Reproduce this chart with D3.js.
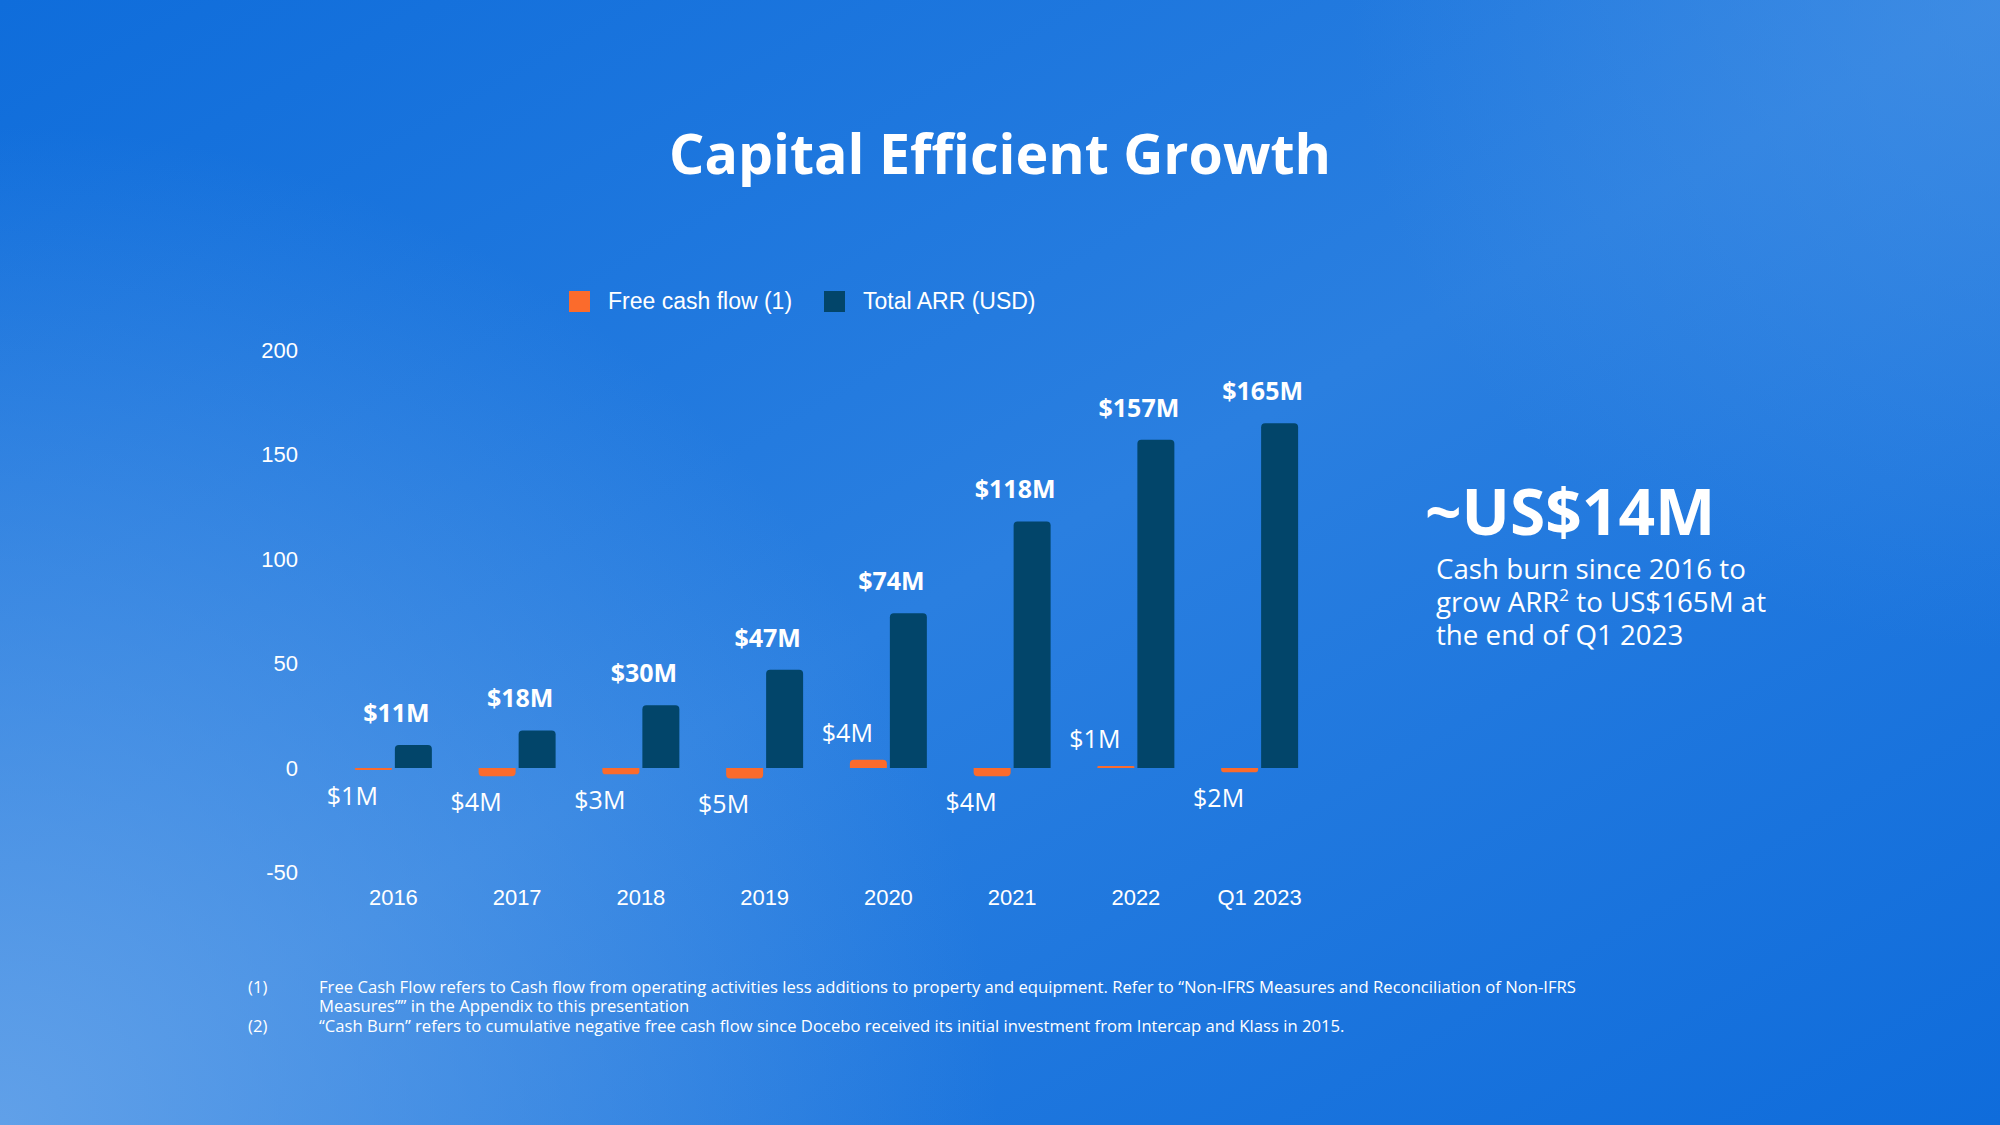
<!DOCTYPE html>
<html>
<head>
<meta charset="utf-8">
<script src="https://cdn.jsdelivr.net/npm/d3@7"></script>
<style>
  html, body { margin: 0; padding: 0; background: #1a74dc; }
  svg { display: block; }
</style>
</head>
<body>
<script>
// ---------- DATA ----------
const categories = ["2016", "2017", "2018", "2019", "2020", "2021", "2022", "Q1 2023"];
const arrValues  = [11, 18, 30, 47, 74, 118, 157, 165];
const fcfValues  = [-1, -4, -3, -5, 4, -4, 1, -2];
const arrLabels  = ["$11M", "$18M", "$30M", "$47M", "$74M", "$118M", "$157M", "$165M"];
const fcfLabels  = ["$1M", "$4M", "$3M", "$5M", "$4M", "$4M", "$1M", "$2M"];
const seriesNames = ["Free cash flow (1)", "Total ARR (USD)"];
const yTicks = [-50, 0, 50, 100, 150, 200];
const titleText = "Capital Efficient Growth";
const headline = "~US$14M";
const footnotes = [
  ["(1)", "Free Cash Flow refers to Cash flow from operating activities less additions to property and equipment. Refer to “Non-IFRS Measures and Reconciliation of Non-IFRS"],
  ["",    "Measures”” in the Appendix to this presentation"],
  ["(2)", "“Cash Burn” refers to cumulative negative free cash flow since Docebo received its initial investment from Intercap and Klass in 2015."]
];

// ---------- SETUP ----------
const W = 2000, H = 1125;
const COL_FCF = "#fb6b2c", COL_ARR = "#02456a";
const svg = d3.select("body").append("svg").attr("width", W).attr("height", H);

const defs = svg.append("defs");
const lg = defs.append("linearGradient").attr("id", "bg")
  .attr("x1", "0").attr("y1", "0").attr("x2", "1").attr("y2", "1");
lg.append("stop").attr("offset", "0").attr("stop-color", "#0f6ddb");
lg.append("stop").attr("offset", "0.5").attr("stop-color", "#2a7fe0");
lg.append("stop").attr("offset", "1").attr("stop-color", "#0f6cdb");
const rg = defs.append("radialGradient").attr("id", "bl")
  .attr("gradientUnits", "userSpaceOnUse").attr("cx", 0).attr("cy", H).attr("r", 1000);
rg.append("stop").attr("offset", "0").attr("stop-color", "#6aa6ea").attr("stop-opacity", 0.85);
rg.append("stop").attr("offset", "1").attr("stop-color", "#6aa6ea").attr("stop-opacity", 0);
const rg2 = defs.append("radialGradient").attr("id", "tr")
  .attr("gradientUnits", "userSpaceOnUse").attr("cx", W).attr("cy", 0).attr("r", 650);
rg2.append("stop").attr("offset", "0").attr("stop-color", "#4a94e6").attr("stop-opacity", 0.6);
rg2.append("stop").attr("offset", "1").attr("stop-color", "#4a94e6").attr("stop-opacity", 0);

svg.append("rect").attr("width", W).attr("height", H).attr("fill", "url(#bg)");
svg.append("rect").attr("width", W).attr("height", H).attr("fill", "url(#bl)");
svg.append("rect").attr("width", W).attr("height", H).attr("fill", "url(#tr)");

// Title
svg.append("text").attr("x", 1000).attr("y", 174).attr("text-anchor", "middle")
  .attr("font-family", "'Open Sans', sans-serif").attr("font-weight", 700)
  .attr("font-size", 55.5).attr("fill", "#fff").text(titleText);

// Scales
const x = d3.scaleBand().domain(categories).range([331.5, 1321.5]).paddingInner(0.378).paddingOuter(0.189);
const xs = d3.scaleBand().domain(["fcf", "arr"]).range([0, x.bandwidth()]).paddingInner(0.075);
const y = d3.scaleLinear().domain([-50, 200]).range([872.5, 350]);

// Y axis
const yAxis = svg.append("g").attr("transform", "translate(298,0)")
  .call(d3.axisLeft(y).tickValues(yTicks).tickSize(0).tickPadding(0).tickFormat(d => String(d)));
yAxis.select(".domain").remove();
yAxis.selectAll("text").attr("font-family", "'Liberation Sans', Arial, sans-serif")
  .attr("font-size", 22).attr("fill", "#fff");

// X axis
const xAxis = svg.append("g").attr("transform", "translate(0,889)")
  .call(d3.axisBottom(x).tickSize(0).tickPadding(0));
xAxis.select(".domain").remove();
xAxis.selectAll("text").attr("font-family", "'Liberation Sans', Arial, sans-serif")
  .attr("font-size", 22).attr("fill", "#fff");

// Rounded bar path (rounded at far end)
function barPath(x0, w, v) {
  const yb = y(0), yt = y(v);
  const h = Math.abs(yb - yt);
  const r = Math.min(4, h / 2, w / 2);
  const dir = v >= 0 ? -1 : 1;
  const p = d3.path();
  p.moveTo(x0, yb);
  p.lineTo(x0, yt - dir * r);
  p.quadraticCurveTo(x0, yt, x0 + r, yt);
  p.lineTo(x0 + w - r, yt);
  p.quadraticCurveTo(x0 + w, yt, x0 + w, yt - dir * r);
  p.lineTo(x0 + w, yb);
  p.closePath();
  return p.toString();
}

const bars = svg.append("g");
bars.selectAll("path.fcf").data(categories).join("path").attr("class", "fcf")
  .attr("d", (c, i) => barPath(x(c) + xs("fcf"), xs.bandwidth(), fcfValues[i]))
  .attr("fill", COL_FCF);
bars.selectAll("path.arr").data(categories).join("path").attr("class", "arr")
  .attr("d", (c, i) => barPath(x(c) + xs("arr"), xs.bandwidth(), arrValues[i]))
  .attr("fill", COL_ARR);

// ARR labels
svg.append("g").selectAll("text").data(categories).join("text")
  .attr("x", c => x(c) + x.bandwidth() / 2 + 3)
  .attr("y", (c, i) => y(arrValues[i]) - 23)
  .attr("text-anchor", "middle")
  .attr("font-family", "'Open Sans', sans-serif").attr("font-weight", 700)
  .attr("font-size", 25).attr("fill", "#fff")
  .text((c, i) => arrLabels[i]);

// FCF labels
svg.append("g").selectAll("text").data(categories).join("text")
  .attr("x", c => x(c) + xs("fcf") + xs.bandwidth() / 2 - 21)
  .attr("y", (c, i) => fcfValues[i] < 0 ? y(fcfValues[i]) + 35 : y(fcfValues[i]) - 18)
  .attr("text-anchor", "middle")
  .attr("font-family", "'Open Sans', sans-serif")
  .attr("font-size", 25).attr("fill", "#fff")
  .text((c, i) => fcfLabels[i]);

// Legend
const legendX = [569, 824];
const legend = svg.append("g");
seriesNames.forEach((s, i) => {
  legend.append("rect").attr("x", legendX[i]).attr("y", 291).attr("width", 21).attr("height", 21)
    .attr("fill", i === 0 ? COL_FCF : COL_ARR);
  legend.append("text").attr("x", legendX[i] + 39).attr("y", 309)
    .attr("font-family", "'Liberation Sans', Arial, sans-serif").attr("font-size", 23)
    .attr("fill", "#fff").text(s);
});

// Right side callout
svg.append("text").attr("x", 1425).attr("y", 535)
  .attr("font-family", "'Open Sans', sans-serif").attr("font-weight", 700)
  .attr("font-size", 64).attr("fill", "#fff").text(headline);
const para = svg.append("g").attr("font-family", "'Open Sans', sans-serif")
  .attr("font-size", 27.7).attr("fill", "#fff");
para.append("text").attr("x", 1436).attr("y", 579).text("Cash burn since 2016 to");
const l2 = para.append("text").attr("x", 1436).attr("y", 612);
l2.append("tspan").text("grow ARR");
l2.append("tspan").attr("font-size", 17).attr("dy", -11).text("2");
l2.append("tspan").attr("dy", 11).text(" to US$165M at");
para.append("text").attr("x", 1436).attr("y", 645).text("the end of Q1 2023");

// Footnotes
const fn = svg.append("g").attr("font-family", "'Open Sans', sans-serif")
  .attr("font-size", 16.65).attr("fill", "#fff");
const fnY = [993, 1012, 1032];
footnotes.forEach((f, i) => {
  if (f[0]) fn.append("text").attr("x", 248).attr("y", fnY[i]).text(f[0]);
  fn.append("text").attr("x", 319).attr("y", fnY[i]).text(f[1]);
});
</script>
</body>
</html>
